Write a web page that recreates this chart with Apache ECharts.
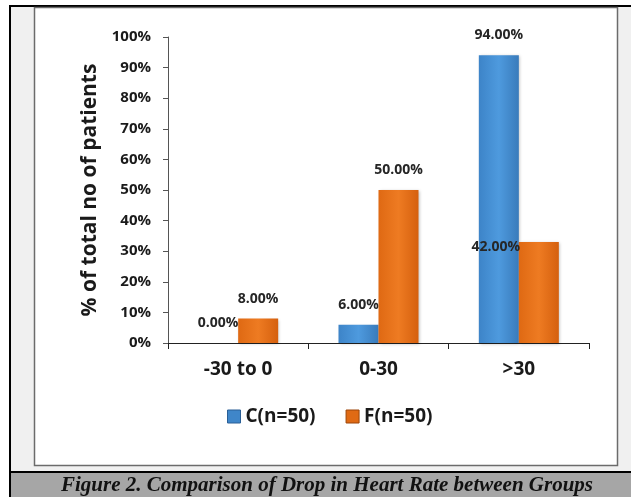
<!DOCTYPE html>
<html>
<head>
<meta charset="utf-8">
<script src="https://cdn.jsdelivr.net/npm/echarts@6/dist/echarts.min.js"></script>
<style>
html,body{margin:0;padding:0;background:#fff;}
#chart{width:631px;height:497px;}
</style>
</head>
<body>
<div id="chart"></div>
<script>
var categories = ['-30 to 0', '0-30', '>30'];
var seriesNames = ['C(n=50)', 'F(n=50)'];
var valuesC = [0, 6, 94];
var valuesF = [8, 50, 33];
var labelsC = ['0.00%', '6.00%', '94.00%'];
var labelsF = ['8.00%', '50.00%', '42.00%'];
var yTicks = [0, 10, 20, 30, 40, 50, 60, 70, 80, 90, 100];
var yAxisTitle = '% of total no of patients';
var caption = 'Figure 2. Comparison of Drop in Heart Rate between Groups';

var chart = echarts.init(document.getElementById('chart'), null, {renderer: 'canvas'});

function grad(a, b, c) {
  return new echarts.graphic.LinearGradient(0, 0, 1, 0, [
    {offset: 0, color: a}, {offset: 0.5, color: b}, {offset: 1, color: c}
  ]);
}
var blue = grad('#3d84c8', '#4e9ade', '#397bbb');
var orange = grad('#df6913', '#ee7b22', '#d5600e');

function labelStyle(texts) {
  return {
    show: true, position: 'top', distance: 13,
    fontFamily: 'Open Sans', fontWeight: 'bold', fontSize: 14, color: '#262626',
    formatter: function (p) { return texts[p.dataIndex]; }
  };
}

var dataF = valuesF.map(function (v, i) {
  if (i === 2) {
    return {value: v, label: {position: 'top', distance: 0, offset: [-43, 12]}};
  }
  return v;
});

var option = {
  animation: false,
  backgroundColor: '#ffffff',
  graphic: [
    {type: 'rect', shape: {x: 10, y: 6, width: 640, height: 500}, style: {fill: '#f0f0f0', stroke: '#000', lineWidth: 2}, z: -10},
    {type: 'rect', shape: {x: 34.5, y: 7.5, width: 583, height: 458}, style: {fill: '#fff', stroke: '#6b6b6b', lineWidth: 1.5}, z: -9},
    {type: 'rect', shape: {x: 10, y: 472, width: 640, height: 40}, style: {fill: '#a6a6a6', stroke: '#000', lineWidth: 2}, z: -8},
    {type: 'text', x: 327, y: 486, style: {text: caption, fill: '#111', font: 'italic bold 21px "Liberation Serif"', textAlign: 'center', textVerticalAlign: 'middle'}, z: 10}
  ],
  grid: {left: 168, right: 42, top: 37, bottom: 154, containLabel: false},
  legend: {
    left: 222, top: 402,
    itemWidth: 13, itemHeight: 13, itemGap: 30,
    icon: 'rect',
    textStyle: {fontFamily: 'Open Sans', fontWeight: 'bold', fontSize: 19, color: '#1a1a1a', padding: [0, 0, 0, 0]},
    data: [
      {name: seriesNames[0], itemStyle: {color: '#3f86c9', borderColor: '#2a5f96', borderWidth: 1}},
      {name: seriesNames[1], itemStyle: {color: '#e06a14', borderColor: '#9c4508', borderWidth: 1}}
    ]
  },
  xAxis: {
    type: 'category', data: categories,
    axisLine: {lineStyle: {color: '#222', width: 1}},
    axisTick: {show: true, length: 6, lineStyle: {color: '#222'}},
    axisLabel: {fontFamily: 'Open Sans', fontWeight: 'bold', fontSize: 19, color: '#1a1a1a', margin: 17}
  },
  yAxis: {
    type: 'value', min: 0, max: 100, interval: 10,
    name: yAxisTitle, nameLocation: 'middle', nameGap: 67, nameRotate: 90,
    nameTextStyle: {fontFamily: 'Open Sans', fontWeight: 'bold', fontSize: 21, color: '#1a1a1a'},
    axisLine: {show: true, lineStyle: {color: '#555', width: 1}},
    axisTick: {show: true, length: 5, lineStyle: {color: '#555'}},
    splitLine: {show: false},
    axisLabel: {fontFamily: 'Open Sans', fontWeight: 'bold', fontSize: 15, color: '#1a1a1a', margin: 17, formatter: '{value}%'}
  },
  series: [
    {name: seriesNames[0], type: 'bar', data: valuesC, barWidth: 40, barGap: '0%',
      itemStyle: {color: blue, shadowColor: 'rgba(0,0,0,0.25)', shadowBlur: 3, shadowOffsetX: 1, shadowOffsetY: 1},
      label: labelStyle(labelsC)},
    {name: seriesNames[1], type: 'bar', data: dataF, barWidth: 40, barGap: '0%', z: 3,
      itemStyle: {color: orange, shadowColor: 'rgba(0,0,0,0.25)', shadowBlur: 3, shadowOffsetX: 1, shadowOffsetY: 1},
      label: labelStyle(labelsF)}
  ]
};
chart.setOption(option);
</script>
</body>
</html>
